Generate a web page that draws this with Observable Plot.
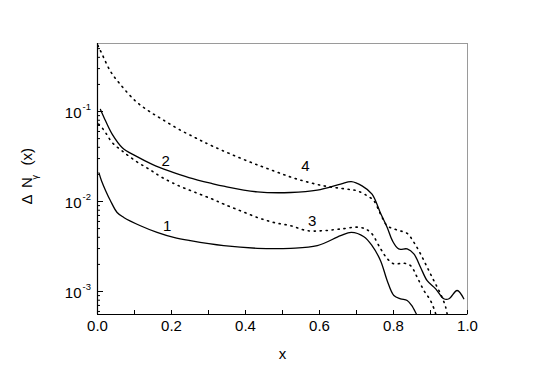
<!DOCTYPE html>
<html><head><meta charset="utf-8">
<script src="https://cdn.jsdelivr.net/npm/d3@7"></script>
<script src="https://cdn.jsdelivr.net/npm/@observablehq/plot@0.6"></script>
<style>body{margin:0;background:#fff} #chart svg{display:block}</style>
</head><body><div id="chart"></div>
<script>
// Curve 1 (solid, lower)
const curve1X = [0.004,0.011,0.022,0.035,0.053,0.071,0.116,0.161,0.206,0.251,0.341,0.432,0.522,0.594,0.657,0.686,0.720,0.742,0.765,0.783,0.801,0.819,0.837,0.849,0.864,0.873];
const curve1Y = [0.0208,0.0169,0.0132,0.0102,0.00755,0.00665,0.00538,0.00454,0.00399,0.00367,0.00323,0.00302,0.00302,0.00323,0.00417,0.00454,0.00406,0.00323,0.0022,0.00132,0.000904,0.00083,0.000795,0.0007,0.000542,0.000466];
// Curve 2 (solid, upper)
const curve2X = [0.008,0.022,0.040,0.067,0.103,0.148,0.193,0.247,0.310,0.341,0.432,0.522,0.594,0.657,0.686,0.715,0.742,0.765,0.783,0.797,0.814,0.837,0.855,0.873,0.891,0.914,0.936,0.950,0.972,0.990];
const curve2Y = [0.1054,0.0783,0.0557,0.0396,0.0321,0.0259,0.0219,0.01845,0.01582,0.0148,0.0128,0.01259,0.01337,0.0156,0.01665,0.01492,0.01208,0.0074,0.00515,0.00367,0.00297,0.00297,0.00262,0.00186,0.00132,0.00107,0.00083,0.00083,0.001026,0.00083];
// Curve 3 (dotted, lower)
const curve3X = [0.003,0.011,0.022,0.040,0.067,0.103,0.139,0.175,0.220,0.265,0.310,0.341,0.386,0.432,0.476,0.522,0.567,0.612,0.657,0.711,0.738,0.765,0.783,0.801,0.828,0.846,0.864,0.882,0.900,0.914,0.919];
const curve3Y = [0.0725,0.0671,0.0581,0.0450,0.0364,0.0282,0.0229,0.01845,0.01492,0.01259,0.01064,0.00936,0.00789,0.00665,0.00585,0.00538,0.00474,0.00474,0.00495,0.00515,0.00454,0.00299,0.00232,0.00203,0.00206,0.00194,0.00144,0.001026,0.000795,0.000566,0.000478];
// Curve 4 (dotted, upper)
const curve4X = [0.001,0.011,0.035,0.062,0.103,0.139,0.175,0.220,0.264,0.310,0.405,0.476,0.540,0.612,0.675,0.702,0.729,0.747,0.765,0.783,0.810,0.837,0.855,0.873,0.891,0.909,0.927,0.941,0.947];
const curve4Y = [0.543,0.4467,0.280,0.1994,0.1303,0.1010,0.0818,0.0634,0.0512,0.0414,0.0282,0.0219,0.0177,0.01492,0.01371,0.01313,0.01156,0.01018,0.00725,0.00538,0.00482,0.00442,0.00352,0.00262,0.00186,0.00132,0.000944,0.00067,0.000502];

const curveLabels = ["1","2","3","4"];
const curveLabelX = [0.188,0.184,0.580,0.562];
const curveLabelY = [0.00538,0.0282,0.00601,0.0248];

const xDomain = [0, 1];
const yDomain = [0.000555, 0.57];
const xTicks = [0,0.1,0.2,0.3,0.4,0.5,0.6,0.7,0.8,0.9,1.0];
const xTickLabels = ["0.0","0.2","0.4","0.6","0.8","1.0"];
const xTickLabelValues = [0,0.2,0.4,0.6,0.8,1.0];
const yMajorTicks = [0.001,0.01,0.1];
const yTickExponents = ["-3","-2","-1"];
const yMinorTicks = [0.0006,0.0007,0.0008,0.0009,0.002,0.003,0.004,0.005,0.006,0.007,0.008,0.009,0.02,0.03,0.04,0.05,0.06,0.07,0.08,0.09,0.2,0.3,0.4,0.5];

const W = 543, H = 378, mL = 97, mR = 76, mT = 43, mB = 64;
const plotW = W - mL - mR, plotH = H - mT - mB;
const pts = (xs, ys) => xs.map((x, i) => ({x, y: ys[i]}));
const font = "Liberation Sans, Arial, Helvetica, sans-serif";

const solid = {x: "x", y: "y", curve: "catmull-rom", stroke: "black", strokeWidth: 1.3, clip: true};
const dotted = {x: "x", y: "y", curve: "catmull-rom", stroke: "black", strokeWidth: 1.6, strokeDasharray: "1.2,4.8", clip: true};

const chart = Plot.plot({
  width: W, height: H,
  marginLeft: mL, marginRight: mR, marginTop: mT, marginBottom: mB,
  style: {fontFamily: font, background: "white", color: "black"},
  x: {domain: xDomain, axis: null},
  y: {type: "log", domain: yDomain, axis: null},
  marks: [
    Plot.frame({stroke: "#9a9a9a"}),
    Plot.ruleX([xDomain[0]], {stroke: "black", strokeWidth: 1.2}),
    Plot.ruleY([yDomain[0]], {stroke: "black", strokeWidth: 1.2}),
    Plot.ruleX(xTicks, {x: d => d, insetTop: plotH - 4, stroke: "black"}),
    Plot.ruleY(yMajorTicks, {y: d => d, insetRight: plotW - 6, stroke: "black"}),
    Plot.ruleY(yMinorTicks, {y: d => d, insetRight: plotW - 3, stroke: "black"}),
    Plot.text(xTickLabelValues, {x: d => d, text: (d, i) => xTickLabels[i], frameAnchor: "bottom", dy: 16, fontSize: 15, fill: "black"}),
    Plot.text(yMajorTicks, {y: d => d, text: () => "10", frameAnchor: "left", textAnchor: "end", dx: -16, dy: 1.5, fontSize: 15, fill: "black"}),
    Plot.text(yMajorTicks, {y: d => d, text: (d, i) => yTickExponents[i], frameAnchor: "left", textAnchor: "start", dx: -15, dy: -4.5, fontSize: 9.5, fill: "black"}),
    Plot.text(["x"], {text: d => d, frameAnchor: "bottom", dy: 44, fontSize: 15, fill: "black"}),
    Plot.text(["Δ"], {text: d => d, frameAnchor: "left", rotate: -90, dx: -70, dy: 25.5, fontSize: 15, fill: "black"}),
    Plot.text(["N"], {text: d => d, frameAnchor: "left", rotate: -90, dx: -70, dy: 9, fontSize: 15, fill: "black"}),
    Plot.text(["γ"], {text: d => d, frameAnchor: "left", rotate: -90, dx: -62, dy: 0.5, fontSize: 9, fill: "black"}),
    Plot.text(["(x)"], {text: d => d, frameAnchor: "left", rotate: -90, dx: -70, dy: -13.5, fontSize: 15, fill: "black"}),
    Plot.line(pts(curve1X, curve1Y), solid),
    Plot.line(pts(curve2X, curve2Y), solid),
    Plot.line(pts(curve3X, curve3Y), dotted),
    Plot.line(pts(curve4X, curve4Y), dotted),
    Plot.text(curveLabels, {x: (d, i) => curveLabelX[i], y: (d, i) => curveLabelY[i], text: d => d, fontSize: 15, fill: "black"})
  ]
});
document.getElementById("chart").append(chart);
</script>
</body></html>
